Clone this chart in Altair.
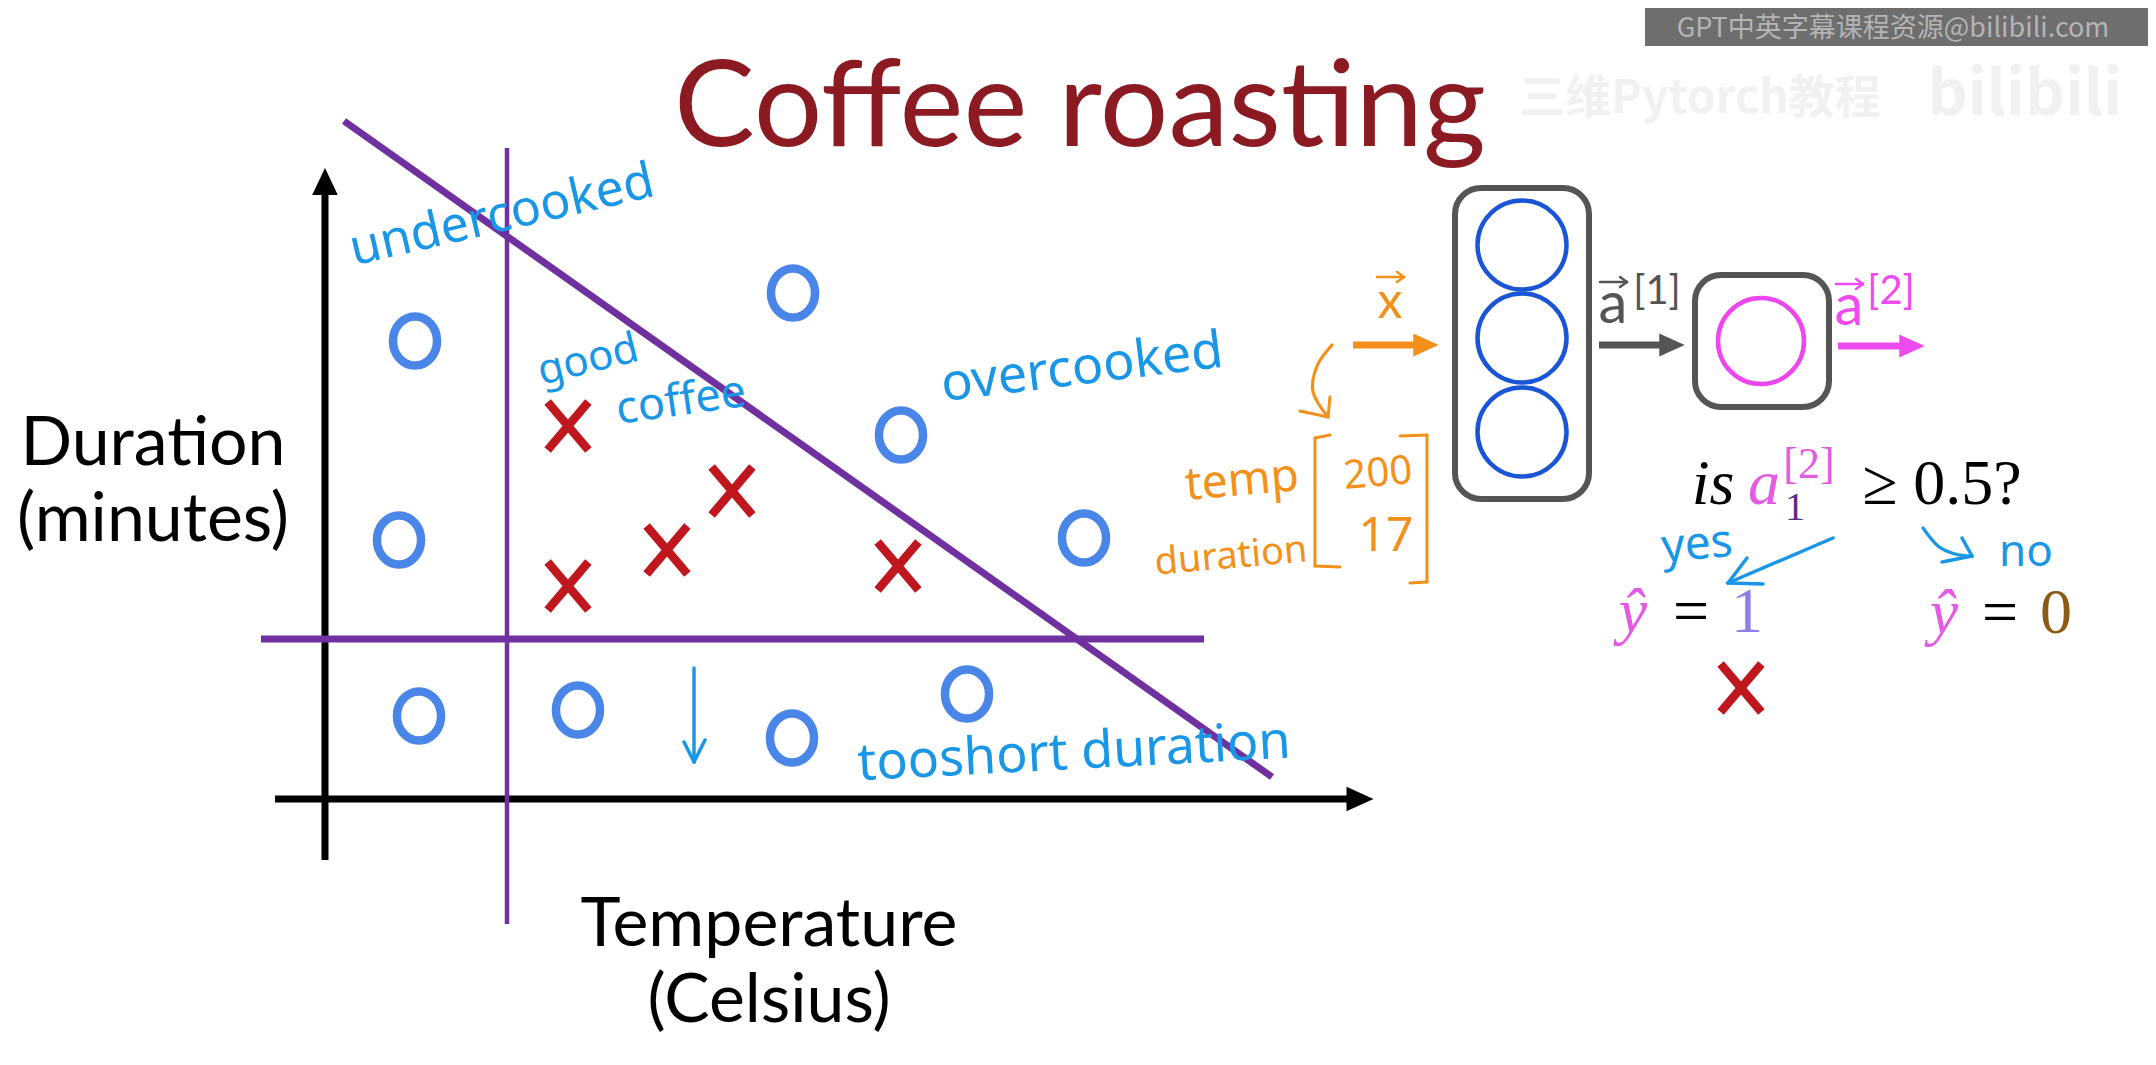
import altair as alt
import pandas as pd

# canvas (slide pixel units; page margin is 8px)
W, H = 2140, 1040
X0, Y0 = 8, 8

# ---------------- data ----------------
# scatter: blue "o" (bad roast) and red "x" (good coffee), in slide units
circle_temp = [415, 793, 399, 901, 1084, 419, 578, 792, 967]
circle_dur = [341, 293, 540, 435, 538, 716, 710, 738, 694]
cross_temp = [568, 732, 667, 568, 898]
cross_dur = [426, 491, 550, 586, 566]
decision_cross = [(1741, 688)]

# straight lines: axes and decision boundaries
line_x1 = [325, 275, 507, 261, 344]
line_y1 = [860, 799, 148, 639, 121]
line_x2 = [325, 1352, 507, 1204, 1272]
line_y2 = [192, 799, 924, 639, 777]
line_col = ["#000000", "#000000", "#7030a0", "#7030a0", "#7030a0"]
line_w = [7, 7, 4.5, 7, 7]

# network arrows shafts
arrow_x1 = [1353, 1599, 1838]
arrow_x2 = [1418, 1664, 1904]
arrow_y = [345, 345, 346]
arrow_col = ["#f39019", "#555555", "#ee4bee"]

# arrow heads (right-pointing)
head_x = [1360, 1426, 1672, 1912]
head_y = [799, 345, 345, 346]
head_col = ["#000000", "#f39019", "#555555", "#ee4bee"]
head_size = [729, 650, 650, 650]

# network boxes
box_x1 = [1455, 1695]
box_x2 = [1589, 1829]
box_y1 = [188, 275]
box_y2 = [499, 407]

# neurons
neuron_x = [1522, 1522, 1522, 1761]
neuron_y = [245, 338, 432, 341]
neuron_col = ["#1a55d6", "#1a55d6", "#1a55d6", "#ee46ee"]
neuron_size = [7921, 7921, 7921, 7400]

# pen strokes (handwritten arrows, brackets, vector arrows)
BL, OR, GR, PK = "#1a96e6", "#f39019", "#555555", "#ee4bee"
pen = [
    # blue down arrow
    (694, 668, 694, 762, BL, 3.5), (684, 742, 694, 762, BL, 3.5), (694, 762, 705, 740, BL, 3.5),
    # yes arrow
    (1833, 538, 1728, 583, BL, 3.5), (1747, 558, 1728, 583, BL, 3.5), (1728, 583, 1763, 584, BL, 3.5),
    # no arrow head
    (1962, 538, 1972, 556, BL, 3.5), (1972, 556, 1942, 562, BL, 3.5),
    # orange curved arrow head
    (1300, 411, 1328, 417, OR, 3), (1328, 417, 1330, 397, OR, 3),
    # brackets
    (1315, 438, 1315, 566, OR, 3), (1315, 438, 1330, 435, OR, 3), (1315, 566, 1340, 567, OR, 3),
    (1427, 435, 1427, 582, OR, 3), (1427, 435, 1400, 436, OR, 3), (1427, 582, 1410, 583, OR, 3),
    # vector arrows above x and a
    (1377, 277, 1404, 277, OR, 2.5), (1397, 272, 1404, 277, OR, 2.5), (1404, 277, 1397, 282, OR, 2.5),
    (1600, 282, 1627, 282, GR, 2.5), (1620, 277, 1627, 282, GR, 2.5), (1627, 282, 1620, 287, GR, 2.5),
    (1836, 284, 1863, 284, PK, 2.5), (1856, 279, 1863, 284, PK, 2.5), (1863, 284, 1856, 289, PK, 2.5),
]

# curved pen strokes: (stroke id, order, x, y, colour)
curves = [
    ("orange", 0, 1332, 345, OR), ("orange", 1, 1317, 366, OR), ("orange", 2, 1313, 392, OR),
    ("orange", 3, 1328, 417, OR),
    ("no", 0, 1923, 528, BL), ("no", 1, 1938, 546, BL), ("no", 2, 1955, 554, BL),
    ("no", 3, 1972, 556, BL),
]

# texts
hand_labels = ["undercooked", "good", "coffee", "overcooked", "tooshort duration", "yes", "no",
               "temp", "duration", "200", "17"]
hand_x = [502, 588, 681, 1082, 1074, 1697, 2026, 1242, 1231, 1378, 1386]
hand_y = [216, 360, 401, 368, 753, 545, 553, 481, 557, 474, 537]
hand_size = [50, 42, 45, 52, 52, 46, 44, 46, 38, 40, 48]
hand_angle = [347, 346, 352, 353, 357, 355, 0, 355, 355, 355, 0]
hand_col = [BL] * 7 + [OR] * 4

axis_labels = ["Duration", "(minutes)", "Temperature", "(Celsius)"]
axis_x = [153, 153, 769, 769]
axis_y = [465, 541, 946, 1022]

diag_labels = ["x", "a", "[1]", "a", "[2]"]
diag_x = [1390, 1613, 1657, 1849, 1891]
diag_y = [303, 306, 292, 308, 292]
diag_size = [50, 58, 40, 58, 40]
diag_col = [OR, GR, GR, PK, PK]

math_it = ["is", "a", "ŷ", "ŷ"]
math_it_x = [1713, 1764, 1633, 1944]
math_it_y = [504, 504, 632, 633]
math_it_col = ["#000000", "#e35be3", "#e35be3", "#e35be3"]

math_up = ["1", "[2]", "≥ 0.5?", "=", "1", "=", "0"]
math_up_x = [1795, 1809, 1942, 1691, 1747, 2000, 2056]
math_up_y = [520, 478, 504, 632, 632, 633, 633]
math_up_size = [40, 44, 64, 64, 64, 64, 64]
math_up_col = ["#5a2d82", "#e35be3", "#000000", "#000000", "#8a80e8", "#000000", "#8c5a14"]

# ---------------- helpers ----------------
xs = alt.Scale(domain=[X0, X0 + W], nice=False, zero=False)
ys = alt.Scale(domain=[Y0, Y0 + H], nice=False, zero=False, reverse=True)


def X(f="x"):
    return alt.X(f"{f}:Q", scale=xs, axis=None)


def Y(f="y"):
    return alt.Y(f"{f}:Q", scale=ys, axis=None)


def text_layer(df, font, baseline="middle", style="normal", weight="normal"):
    return alt.Chart(df).mark_text(
        font=font, align="center", baseline=baseline, fontStyle=style, fontWeight=weight
    ).encode(
        x=X(), y=Y(), text="label:N",
        color=alt.Color("col:N", scale=None),
        size=alt.Size("size:Q", scale=None),
        angle=alt.Angle("angle:Q", scale=None),
    )


# ---------------- layers ----------------
bg_wm = alt.Chart(pd.DataFrame({"x": [1645], "x2": [2148], "y": [8], "y2": [46]})).mark_rect(
    color="#6e6e6e").encode(x=X(), x2=alt.X2("x2:Q"), y=Y(), y2=Y2) if False else \
    alt.Chart(pd.DataFrame({"x": [1645], "x2": [2148], "y": [8], "y2": [46]})).mark_rect(
        color="#6e6e6e").encode(x=X(), x2=alt.X2("x2:Q"), y=Y(), y2=alt.Y2("y2:Q"))

wm_text = text_layer(pd.DataFrame({
    "label": ["GPT中英字幕课程资源@bilibili.com"], "x": [1893], "y": [29], "size": [27],
    "angle": [0], "col": ["#b4b4b4"]}), "Noto Sans CJK SC")

faint = text_layer(pd.DataFrame({
    "label": ["三维Pytorch教程", "bilibili"], "x": [1700, 2025], "y": [99, 96], "size": [46, 62],
    "angle": [0, 0], "col": ["#f1f1f1", "#f1f1f1"]}), "Noto Sans CJK SC", weight="bold")

seg_df = pd.DataFrame({"x": line_x1, "y": line_y1, "x2": line_x2, "y2": line_y2,
                       "col": line_col, "w": line_w})
lines = alt.Chart(seg_df).mark_rule(strokeCap="butt").encode(
    x=X(), y=Y(), x2=alt.X2("x2:Q"), y2=alt.Y2("y2:Q"),
    color=alt.Color("col:N", scale=None), strokeWidth=alt.StrokeWidth("w:Q", scale=None))

arr_df = pd.DataFrame({"x": arrow_x1, "x2": arrow_x2, "y": arrow_y, "col": arrow_col})
arrows = alt.Chart(arr_df).mark_rule(strokeCap="butt", strokeWidth=7).encode(
    x=X(), x2=alt.X2("x2:Q"), y=Y(), color=alt.Color("col:N", scale=None))

heads = alt.Chart(pd.DataFrame({"x": head_x, "y": head_y, "col": head_col, "s": head_size})).mark_point(
    shape="M1,0L-1,-0.9L-1,0.9Z", filled=True, opacity=1).encode(
    x=X(), y=Y(), color=alt.Color("col:N", scale=None), size=alt.Size("s:Q", scale=None))

up_head = alt.Chart(pd.DataFrame({"x": [325], "y": [181.5]})).mark_point(
    shape="M0,-1L0.95,1L-0.95,1Z", filled=True, opacity=1, color="#000000", size=729).encode(
    x=X(), y=Y())

pen_df = pd.DataFrame(pen, columns=["x", "y", "x2", "y2", "col", "w"])
pens = alt.Chart(pen_df).mark_rule(strokeCap="round").encode(
    x=X(), y=Y(), x2=alt.X2("x2:Q"), y2=alt.Y2("y2:Q"), color=alt.Color("col:N", scale=None),
    strokeWidth=alt.StrokeWidth("w:Q", scale=None))

curve_df = pd.DataFrame(curves, columns=["id", "o", "x", "y", "col"])
curve_lines = alt.Chart(curve_df).mark_line(interpolate="cardinal", strokeCap="round",
                                            strokeWidth=3.2).encode(
    x=X(), y=Y(), detail="id:N", order="o:Q", color=alt.Color("col:N", scale=None))

box_df = pd.DataFrame({"x": box_x1, "x2": box_x2, "y": box_y1, "y2": box_y2})
boxes = alt.Chart(box_df).mark_rect(fillOpacity=0, stroke="#555555", strokeWidth=6,
                                    cornerRadius=26).encode(
    x=X(), x2=alt.X2("x2:Q"), y=Y(), y2=alt.Y2("y2:Q"))

neurons = alt.Chart(pd.DataFrame({"x": neuron_x, "y": neuron_y, "col": neuron_col,
                                  "s": neuron_size})).mark_point(
    shape="circle", filled=False, strokeWidth=4.5, opacity=1).encode(
    x=X(), y=Y(), color=alt.Color("col:N", scale=None), size=alt.Size("s:Q", scale=None))

circles = alt.Chart(pd.DataFrame({"x": circle_temp, "y": circle_dur})).mark_point(
    shape="M0,-1A0.9,1 0 1,1 0,1A0.9,1 0 1,1 0,-1Z", filled=False, size=2400, strokeWidth=8.5,
    color="#4a86e8", opacity=1).encode(x=X(), y=Y())

cx = cross_temp + [p[0] for p in decision_cross]
cy = cross_dur + [p[1] for p in decision_cross]
crosses = alt.Chart(pd.DataFrame({"x": cx, "y": cy})).mark_point(
    shape="M-0.85,-1L0.85,1M-0.85,1L0.85,-1", filled=False, size=2300, strokeWidth=8.5,
    color="#c0161e", opacity=1).encode(x=X(), y=Y())

title = text_layer(pd.DataFrame({"label": ["Coffee roasting"], "x": [1080], "y": [146],
                                 "size": [121], "angle": [0], "col": ["#8b1a22"]}),
                   "Lato", baseline="alphabetic")

axis_t = text_layer(pd.DataFrame({"label": axis_labels, "x": axis_x, "y": axis_y,
                                  "size": [68] * 4, "angle": [0] * 4, "col": ["#000000"] * 4}),
                    "Lato", baseline="alphabetic")

hand_t = text_layer(pd.DataFrame({"label": hand_labels, "x": hand_x, "y": hand_y,
                                  "size": hand_size, "angle": hand_angle, "col": hand_col}),
                    "Noto Sans")

diag_t = text_layer(pd.DataFrame({"label": diag_labels, "x": diag_x, "y": diag_y,
                                  "size": diag_size, "angle": [0] * len(diag_labels),
                                  "col": diag_col}), "Lato")

math_i = text_layer(pd.DataFrame({"label": math_it, "x": math_it_x, "y": math_it_y,
                                  "size": [64] * 4, "angle": [0] * 4, "col": math_it_col}),
                    "Liberation Serif", baseline="alphabetic", style="italic")

math_u = text_layer(pd.DataFrame({"label": math_up, "x": math_up_x, "y": math_up_y,
                                  "size": math_up_size, "angle": [0] * len(math_up),
                                  "col": math_up_col}),
                    "Liberation Serif", baseline="alphabetic")

chart = alt.layer(
    bg_wm, wm_text, faint, lines, arrows, heads, up_head, pens, curve_lines, boxes, neurons,
    circles, crosses, title, axis_t, hand_t, diag_t, math_i, math_u
).properties(
    width=W, height=H, padding=0, background="#ffffff",
    autosize=alt.AutoSizeParams(type="none"),
).configure_view(stroke=None)

chart.save("out.html", embed_options={"renderer": "svg", "actions": False})
